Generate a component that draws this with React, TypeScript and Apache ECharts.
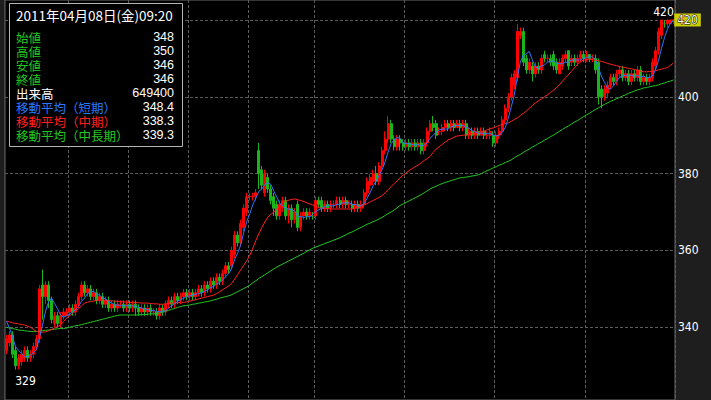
import React, { useEffect, useRef } from "react";
import * as echarts from "echarts";

// [open, close, low, high] per bar
const ohlc: number[][] = [
  [334,337,333,338],[336,338,335,339],[338,333,332,339],[334,330,329,335],[330,332,329,333],
  [331,333,330,334],[332,334,331,335],[334,332,331,335],[332,333,331,334],[333,335,332,336],
  [335,337,334,338],[337,350,336,351],[351,348,342,355],[348,351,346,352],[351,347,345,352],
  [347,342,341,348],[341,343,340,344],[343,341,340,344],[341,343,340,344],[343,344,342,345],
  [343,344,343,345],[344,345,343,346],[345,344,343,346],[344,346,343,347],[346,348,345,349],
  [348,351,347,352],[351,349,348,352],[349,350,348,351],[350,348,347,351],[348,349,347,350],
  [349,347,346,350],[347,348,346,349],[348,346,345,349],[346,347,345,348],[347,345,344,348],
  [345,346,344,347],[346,345,344,347],[345,346,344,347],[346,346,345,347],[346,345,344,347],
  [345,346,344,347],[346,345,344,347],[345,346,344,347],[346,345,343,347],[345,344,343,346],
  [344,345,343,346],[345,344,343,346],[344,345,343,346],[345,344,343,346],[344,344,343,345],
  [344,343,342,345],[343,345,342,346],[345,344,343,346],[344,346,343,347],[346,347,345,348],
  [347,346,345,348],[346,348,345,349],[348,347,346,349],[347,348,346,349],[348,349,347,350],
  [349,348,347,350],[348,349,347,350],[349,348,347,350],[348,349,347,350],[349,350,348,351],
  [350,349,348,351],[349,351,348,352],[351,350,349,352],[350,352,349,353],[352,351,350,353],
  [351,353,350,354],[353,352,351,354],[352,354,351,355],[354,356,353,357],[356,355,354,357],
  [356,360,355,361],[359,364,358,365],[364,362,361,365],[362,367,361,368],[366,371,365,372],
  [370,374,369,375],[374,374,373,375],[374,374,373,375],[374,375,373,376],[386,380,376,388],
  [381,377,376,382],[375,380,374,381],[379,376,375,380],[376,373,372,377],[374,371,369,375],
  [372,369,368,373],[369,372,368,373],[371,373,370,374],[373,369,368,374],[369,371,367,372],
  [371,368,366,372],[368,370,367,371],[372,366,365,373],[366,369,365,370],[369,370,368,371],
  [370,369,368,371],[369,370,368,371],[369,369,368,370],[369,373,368,374],[373,372,371,374],
  [373,371,370,374],[371,372,370,373],[372,371,370,373],[371,372,370,373],[372,372,371,373],
  [372,373,371,374],[373,372,371,374],[372,373,371,374],[373,372,371,374],[372,372,371,373],
  [372,371,370,373],[371,372,370,373],[372,371,370,373],[371,372,370,373],[372,375,371,376],
  [375,378,374,379],[377,379,376,380],[378,380,377,381],[380,378,377,382],[378,382,377,383],
  [382,386,381,387],[386,389,385,391],[389,393,388,395],[393,389,388,394],[389,387,386,390],
  [387,389,386,390],[389,388,386,390],[388,387,386,389],[387,388,386,389],[388,387,386,389],
  [387,388,386,389],[388,387,386,389],[387,388,386,389],[388,386,385,389],[386,388,385,389],
  [388,391,387,392],[391,393,390,394],[393,392,391,395],[393,390,389,394],[391,391,390,392],
  [391,392,390,393],[392,393,391,394],[393,392,391,394],[392,393,391,394],[393,392,391,394],
  [392,393,392,394],[393,392,391,394],[392,393,391,394],[393,390,389,394],[390,391,389,392],
  [391,390,389,392],[390,391,389,392],[391,390,389,392],[390,391,390,392],[391,390,389,392],
  [390,390,389,391],[390,391,389,392],[390,388,387,391],[388,390,387,391],[390,391,389,392],
  [391,394,390,395],[394,397,393,398],[397,400,396,401],[400,405,399,406],[403,406,402,407],
  [405,417,404,419],[416,417,415,418],[417,409,408,418],[410,407,406,411],[407,409,406,410],
  [408,406,404,409],[406,408,405,409],[408,407,406,409],[407,410,406,411],[411,410,409,412],
  [410,410,409,411],[410,409,408,411],[411,408,407,412],[409,407,406,410],[406,409,406,410],
  [408,410,407,411],[410,411,409,412],[412,408,407,412],[409,410,408,411],[410,409,408,411],
  [409,410,408,411],[410,411,409,412],[411,410,409,412],[410,411,409,412],[411,410,409,411],
  [410,410,409,411],[410,407,406,411],[409,400,398,410],[402,400,397,403],[400,402,399,403],
  [401,403,400,404],[403,405,402,406],[405,404,403,406],[404,406,403,407],[406,407,405,408],
  [407,405,404,408],[405,406,404,407],[406,404,403,407],[404,406,403,407],[406,405,404,407],
  [405,407,404,408],[407,404,403,408],[404,405,403,406],[405,404,403,406],[404,405,403,406],
  [405,409,404,410],[408,412,407,413],[412,417,411,418],[416,420,415,420],[419,419,418,420],
  [419,420,418,420],[419,420,419,420],[420,420,419,420]
];

// 移動平均(中期)
const midMA: number[] = [
  341.6,341.4,341.2,341.0,340.9,340.7,340.6,340.3,340.0,339.4,
  338.9,338.8,338.7,338.8,339.1,339.4,339.8,340.2,340.6,341.5,
  342.4,343.0,343.6,344.2,344.9,345.6,346.3,346.5,346.7,346.8,
  347.0,347.1,347.1,347.0,346.9,346.9,346.8,346.8,346.7,346.6,
  346.5,346.5,346.4,346.4,346.4,346.3,346.3,346.3,346.2,346.1,
  346.1,346.0,346.0,346.1,346.2,346.3,346.3,346.4,346.5,346.5,
  346.6,346.8,347.0,347.2,347.4,347.6,347.8,348.0,348.2,348.4,
  348.8,349.3,349.8,350.3,350.8,351.5,352.6,353.8,355.0,356.2,
  357.4,358.8,360.6,362.6,364.4,366.0,367.4,368.7,369.4,370.0,
  370.9,371.7,372.5,372.8,373.1,373.3,373.4,373.2,373.0,372.7,
  372.4,372.1,371.8,371.5,371.1,371.0,370.9,370.9,370.8,370.8,
  370.8,370.8,370.8,370.8,370.8,370.8,371.0,371.2,371.4,371.8,
  372.2,372.6,373.0,373.4,373.8,374.3,375.0,375.8,376.6,377.4,
  378.1,378.9,379.6,380.2,380.8,381.3,381.8,382.2,382.8,383.4,
  383.9,384.5,385.5,386.4,387.0,387.6,388.2,388.8,389.1,389.5,
  389.8,389.9,390.0,390.1,390.2,390.4,390.5,390.6,390.9,391.1,
  391.4,391.7,391.9,392.2,392.5,392.8,393.0,393.2,393.6,394.1,
  394.5,395.1,395.7,396.3,397.0,397.7,398.4,398.9,399.4,400.0,
  400.5,401.1,401.7,402.3,403.1,404.0,404.9,405.7,406.6,407.5,
  408.4,409.0,409.6,409.7,409.8,409.7,409.5,409.4,409.2,409.0,
  408.7,408.5,408.3,408.1,407.9,407.7,407.6,407.4,407.3,407.1,
  406.9,406.7,406.5,406.5,406.6,406.6,406.8,407.0,407.2,407.4,
  407.6,408.2,408.8
];

// 移動平均(中長期)
const longMA: number[] = [
  340.0,339.8,339.7,339.5,339.3,339.2,339.1,339.0,338.9,338.9,
  338.9,339.0,339.1,339.2,339.3,339.4,339.5,339.6,339.7,339.7,
  339.8,340.0,340.2,340.4,340.5,340.7,340.9,341.1,341.3,341.5,
  341.7,341.9,342.1,342.3,342.5,342.7,342.9,343.1,343.2,343.2,
  343.2,343.2,343.2,343.2,343.2,343.3,343.3,343.4,343.5,343.5,
  343.6,343.7,343.9,344.2,344.4,344.7,344.9,345.2,345.4,345.6,
  345.7,345.8,346.0,346.1,346.3,346.4,346.6,346.7,346.9,347.1,
  347.3,347.6,347.8,348.0,348.2,348.5,348.9,349.3,349.7,350.1,
  350.5,351.0,351.6,352.1,352.7,353.2,353.7,354.2,354.7,355.2,
  355.7,356.1,356.5,356.9,357.3,357.7,358.1,358.5,358.9,359.3,
  359.8,360.2,360.6,360.9,361.2,361.5,361.8,362.1,362.4,362.7,
  363.0,363.3,363.7,364.1,364.5,364.8,365.2,365.6,366.0,366.4,
  366.8,367.1,367.5,367.8,368.2,368.6,369.1,369.6,370.0,370.5,
  371.1,371.7,372.1,372.5,372.9,373.3,373.7,374.1,374.5,375.0,
  375.5,376.0,376.4,376.7,377.1,377.4,377.7,377.9,378.2,378.4,
  378.7,378.9,379.0,379.1,379.2,379.4,379.5,379.7,380.0,380.4,
  380.8,381.1,381.5,381.8,382.2,382.5,382.9,383.2,383.6,384.1,
  384.6,385.0,385.5,386.0,386.4,386.9,387.3,387.8,388.2,388.7,
  389.1,389.6,390.0,390.5,391.0,391.5,392.0,392.4,392.9,393.4,
  393.8,394.3,394.8,395.3,395.7,396.2,396.7,397.1,397.6,398.0,
  398.4,398.8,399.1,399.5,399.8,400.2,400.5,400.9,401.2,401.5,
  401.8,402.0,402.3,402.4,402.6,402.8,402.9,403.1,403.4,403.6,
  403.9,404.1,404.4
];

// 移動平均(短期): first points, rest is the 5-bar average
const shortHead: number[] = [341.5, 339.8, 337.5, 335.0];
const shortPeriod = 5;

// bars where a new session starts (vertical dashed lines)
const dayStarts: number[] = [21, 41, 61, 81, 103, 133, 163, 193];

// price axis: visible range and labelled ticks
const yMin = 321.07;
const yMax = 425.2;
const yTicks: number[] = [340, 360, 380, 400, 420];

const infoTitle = "2011年04月08日(金)09:20";
const infoLabels: string[] = [
  "始値", "高値", "安値", "終値", "出来高",
  "移動平均（短期）", "移動平均（中期）", "移動平均（中長期）"
];
const infoValues: string[] = ["348", "350", "346", "346", "649400", "348.4", "338.3", "339.3"];

const categories: string[] = ohlc.map((_, i) => String(i));
const closes: number[] = ohlc.map((d) => d[1]);
const shortMA: number[] = closes.map((_, i) => {
  if (i < shortHead.length) return shortHead[i];
  let s = 0;
  for (let k = i - shortPeriod + 1; k <= i; k++) s += closes[k];
  return Math.round((s / shortPeriod) * 10) / 10;
});

const UP = "#ff0000";
const DOWN = "#1cb41c";
const BLUE = "#2a78ff";
const RED = "#ff2020";
const GREEN = "#22c822";
const GRIDC = "#5c5c5c";
const labelColors = [GREEN, GREEN, GREEN, GREEN, "#ffffff", BLUE, RED, GREEN];
const AXIS_FONT = "'Liberation Sans Narrow', 'DejaVu Sans Condensed', 'Liberation Sans', sans-serif";
const JP_FONT = "'Noto Sans CJK JP', sans-serif";
const NUM_FONT = "'Liberation Sans', 'DejaVu Sans', sans-serif";

export default function App() {
  const ref = useRef<HTMLDivElement>(null);
  useEffect(() => {
    if (!ref.current) return;
    const chart = echarts.init(ref.current, undefined, { renderer: "svg" });
    const last = ohlc.length - 1;
    const lastClose = closes[last];

    const infoEls: any[] = [
      {
        type: "rect",
        z: 100,
        shape: { x: 9.5, y: 3.5, width: 173, height: 143 },
        style: { fill: "#000", stroke: "#b4b4b4", lineWidth: 1 },
      },
      {
        type: "text",
        z: 101,
        x: 16,
        y: 15,
        style: {
          text: infoTitle,
          fill: "#ffffff",
          font: `13.5px ${JP_FONT}`,
          lineHeight: 14,
          textAlign: "left",
          textVerticalAlign: "middle",
          align: "left",
          verticalAlign: "middle",
        },
      },
    ];
    infoLabels.forEach((lab, i) => {
      const y = 37 + i * 14;
      infoEls.push({
        type: "text",
        z: 101,
        x: 16,
        y,
        style: {
          text: lab,
          fill: labelColors[i],
          font: `12.5px ${JP_FONT}`,
          lineHeight: 13,
          textAlign: "left",
          textVerticalAlign: "middle",
          align: "left",
          verticalAlign: "middle",
        },
      });
      infoEls.push({
        type: "text",
        z: 101,
        x: 174,
        y,
        style: {
          text: infoValues[i],
          fill: "#ffffff",
          font: `12.5px ${NUM_FONT}`,
          lineHeight: 13,
          textAlign: "right",
          textVerticalAlign: "middle",
          align: "right",
          verticalAlign: "middle",
        },
      });
    });

    chart.setOption({
      animation: false,
      backgroundColor: "#1e1e1e",
      grid: {
        left: 5,
        right: 36,
        top: 0,
        bottom: 0,
        show: true,
        backgroundColor: "#000000",
        borderColor: "#6a6a6a",
        borderWidth: 1,
        containLabel: false,
      },
      xAxis: {
        type: "category",
        data: categories,
        boundaryGap: true,
        axisLine: { show: false },
        axisTick: { show: false },
        axisLabel: { show: false },
        splitLine: {
          show: true,
          interval: (index: number) => dayStarts.indexOf(index) >= 0,
          lineStyle: { color: GRIDC, width: 1, type: [3, 2] },
        },
      },
      yAxis: {
        type: "value",
        position: "right",
        min: yMin,
        max: yMax,
        axisLine: { show: false },
        axisTick: { show: false, customValues: yTicks },
        axisLabel: {
          customValues: yTicks,
          color: "#ffffff",
          fontSize: 12,
          fontFamily: AXIS_FONT,
          margin: 3,
          padding: [6, 0, 0, 0],
        },
        splitLine: { show: true, lineStyle: { color: GRIDC, width: 1, type: [3, 2] } },
      },
      series: [
        {
          type: "candlestick",
          data: ohlc,
          barWidth: 2.5,
          itemStyle: {
            color: UP,
            color0: DOWN,
            borderColor: UP,
            borderColor0: DOWN,
            borderWidth: 1,
          },
          markPoint: {
            symbol: "circle",
            symbolSize: 0,
            label: { show: true, color: "#ffffff", fontSize: 12, fontFamily: AXIS_FONT },
            data: [
              { type: "max", valueDim: "highest", label: { offset: [2, -8] } },
              { type: "min", valueDim: "lowest", label: { offset: [10, 11] } },
              {
                coord: [categories[last], lastClose],
                value: lastClose,
                label: {
                  offset: [14, 0],
                  backgroundColor: "#cccc00",
                  padding: [1, 3, 0, 3],
                  color: "#ffffff",
                  textBorderColor: "#000000",
                  textBorderWidth: 1,
                },
              },
            ],
          },
        },
        {
          type: "line",
          data: longMA,
          symbol: "none",
          lineStyle: { color: GREEN, width: 1 },
          itemStyle: { color: GREEN },
        },
        {
          type: "line",
          data: midMA,
          symbol: "none",
          lineStyle: { color: RED, width: 1 },
          itemStyle: { color: RED },
        },
        {
          type: "line",
          data: shortMA,
          symbol: "none",
          lineStyle: { color: BLUE, width: 1 },
          itemStyle: { color: BLUE },
        },
      ],
      graphic: { elements: infoEls },
    });
    return () => chart.dispose();
  }, []);
  return (
    <div
      ref={ref}
      style={{ position: "absolute", left: 0, top: 0, width: 711, height: 400 }}
    />
  );
}
